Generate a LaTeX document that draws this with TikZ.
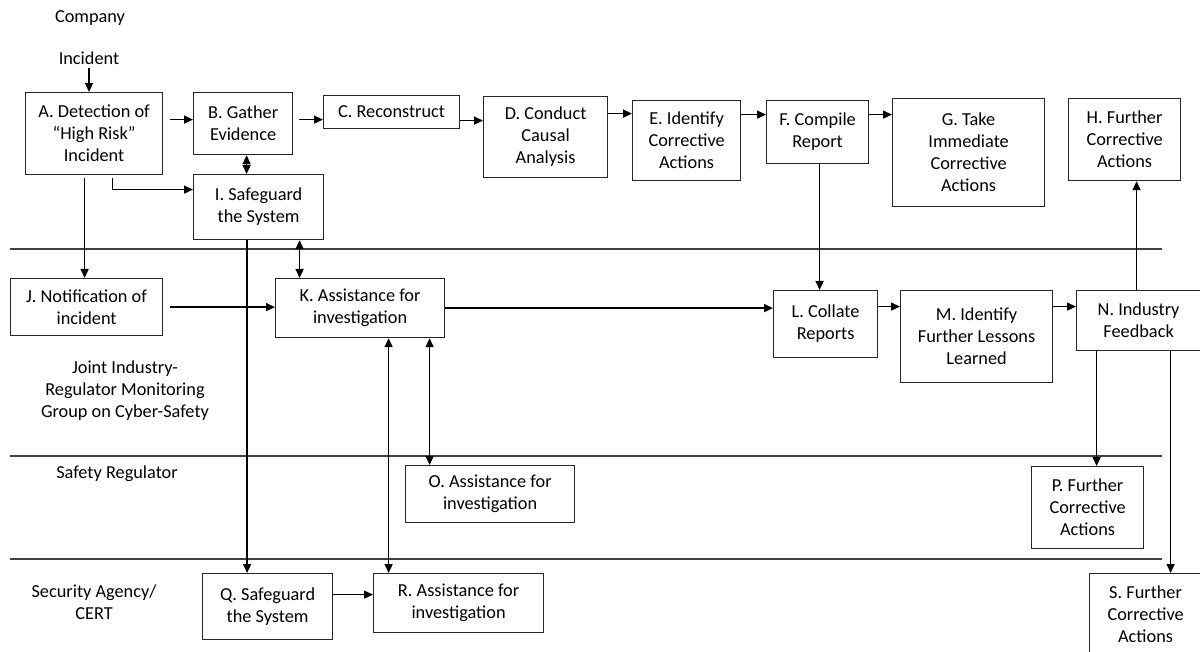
\documentclass[tikz,border=0pt]{standalone}
\usepackage{fontspec}
\setmainfont{Carlito}
\usetikzlibrary{arrows.meta,calc}
\begin{document}
\begin{tikzpicture}[x=1pt,y=-1pt,
  txt/.style={font=\fontsize{18.3pt}{22pt}\selectfont},
  box/.style={txt,draw=black!85,line width=1.2pt,fill=white,anchor=north west,inner sep=0pt,align=center},
  lbl/.style={txt,align=center,inner sep=0pt},
  arr/.style={line width=1.5pt,-{Triangle[length=9pt,width=8pt]}},
  darr/.style={line width=1.5pt,{Triangle[length=9pt,width=8pt]}-{Triangle[length=9pt,width=8pt]}},
  lane/.style={line width=1.3pt,draw=black!75}]
\fill[white] (0,0) rectangle (1200,652);
\useasboundingbox (0,0) rectangle (1200,652);
% swimlane lines
\draw[lane] (10,249) -- (1162,249);
\draw[lane] (10,456) -- (1162,456);
\draw[lane] (10,559) -- (1162,559);
% labels
\node[lbl] (company) at (90,18) {Company};
\node[lbl] (inc) at (89,58) {Incident};
\node[lbl] (joint) at (125,391) {Joint Industry-\\Regulator Monitoring\\Group on Cyber-Safety};
\node[lbl] (safety) at (117,474) {Safety Regulator};
\node[lbl] (security) at (94,602) {Security Agency/\\CERT};
% boxes
\node[box,minimum width=137pt,minimum height=82pt] (A) at (25,92) {A. Detection of\\“High Risk”\\Incident};
\node[box,minimum width=99pt,minimum height=62pt] (B) at (193,92) {B. Gather\\Evidence};
\node[box,minimum width=136pt,minimum height=33pt] (C) at (323,95) {C. Reconstruct};
\node[box,minimum width=124pt,minimum height=81pt] (D) at (483,96) {D. Conduct\\Causal\\Analysis};
\node[box,minimum width=108pt,minimum height=80pt] (E) at (632,100) {E. Identify\\Corrective\\Actions};
\node[box,minimum width=102pt,minimum height=63pt] (F) at (766,100) {F. Compile\\Report};
\node[box,minimum width=152pt,minimum height=108pt] (G) at (892,98) {G. Take\\Immediate\\Corrective\\Actions};
\node[box,minimum width=112pt,minimum height=82pt] (H) at (1068,98) {H. Further\\Corrective\\Actions};
\node[box,minimum width=130pt,minimum height=65pt] (I) at (193,174) {I. Safeguard\\the System};
\node[box,minimum width=152pt,minimum height=57pt] (J) at (10,278) {J. Notification of\\incident};
\node[box,minimum width=169pt,minimum height=59pt] (K) at (275,278) {K. Assistance for\\investigation};
\node[box,minimum width=104pt,minimum height=67pt] (L) at (773,290) {L. Collate\\Reports};
\node[box,minimum width=152pt,minimum height=92pt] (M) at (900,290) {M. Identify\\Further Lessons\\Learned};
\node[box,minimum width=124pt,minimum height=60pt] (N) at (1076,290) {N. Industry\\Feedback};
\node[box,minimum width=169pt,minimum height=57pt] (O) at (405,465) {O. Assistance for\\investigation};
\node[box,minimum width=112pt,minimum height=82pt] (P) at (1031,466) {P. Further\\Corrective\\Actions};
\node[box,minimum width=130pt,minimum height=66pt] (Q) at (202,573) {Q. Safeguard\\the System};
\node[box,minimum width=170pt,minimum height=59pt] (R) at (373,573) {R. Assistance for\\investigation};
\node[box,minimum width=112pt,minimum height=82pt] (S) at (1089,573) {S. Further\\Corrective\\Actions};
% connectors
\draw[arr] ($(inc.south)+(0,3)$) coordinate (t0) -- (t0 |- A.north);
\draw[arr] ($(A.east)+(7,-14)$) coordinate (t1) -- (t1 -| B.west);
\draw[arr] ($(B.east)+(6,-4)$) coordinate (t2) -- (t2 -| C.west);
\draw[arr] ($(C.east)+(0,8.5)$) coordinate (t3) -- (t3 -| D.west);
\draw[arr] ($(D.east)+(0,-23.5)$) coordinate (t4) -- (t4 -| E.west);
\draw[arr] ($(E.east)+(0,-26)$) coordinate (t5) -- (t5 -| F.west);
\draw[arr] ($(F.east)+(0,-17.5)$) coordinate (t6) -- (t6 -| G.west);
\draw[darr] ($(B.south)+(3.5,0)$) coordinate (t7) -- (t7 |- I.north);
\draw[arr] ($(A.south)+(18.5,3)$) |- ($(I.west)+(0,-17.5)$);
\draw[arr] ($(A.south)+(-9.5,3)$) coordinate (t8) -- (t8 |- J.north);
\draw[arr] ($(I.south)+(-11.5,0)$) coordinate (t9) -- (t9 |- Q.north);
\draw[darr] ($(I.south)+(41,0)$) coordinate (t10) -- (t10 |- K.north);
\draw[arr] ($(J.east)+(7,0)$) coordinate (t11) -- (t11 -| K.west);
\draw[arr] (K.east) -- (K.east -| L.west);
\draw[arr] ($(F.south)+(2,0)$) coordinate (t12) -- (t12 |- L.north);
\draw[arr] ($(L.east)+(0,-17.5)$) coordinate (t13) -- (t13 -| M.west);
\draw[arr] (t13 -| M.east) -- (t13 -| N.west);
\draw[arr] ($(N.north)+(-2,0)$) coordinate (t14) -- (t14 |- H.south);
\draw[arr] ($(N.south)+(-42,0)$) coordinate (t15) -- (t15 |- P.north);
\draw[arr] ($(N.south)+(32,0)$) coordinate (t16) -- (t16 |- S.north);
\draw[darr] ($(K.south)+(69.5,0)$) coordinate (t17) -- (t17 |- O.north);
\draw[darr] ($(K.south)+(28.5,0)$) coordinate (t18) -- (t18 |- R.north);
\draw[arr] ($(Q.east)+(0,-12)$) coordinate (t19) -- (t19 -| R.west);
\end{tikzpicture}
\end{document}
